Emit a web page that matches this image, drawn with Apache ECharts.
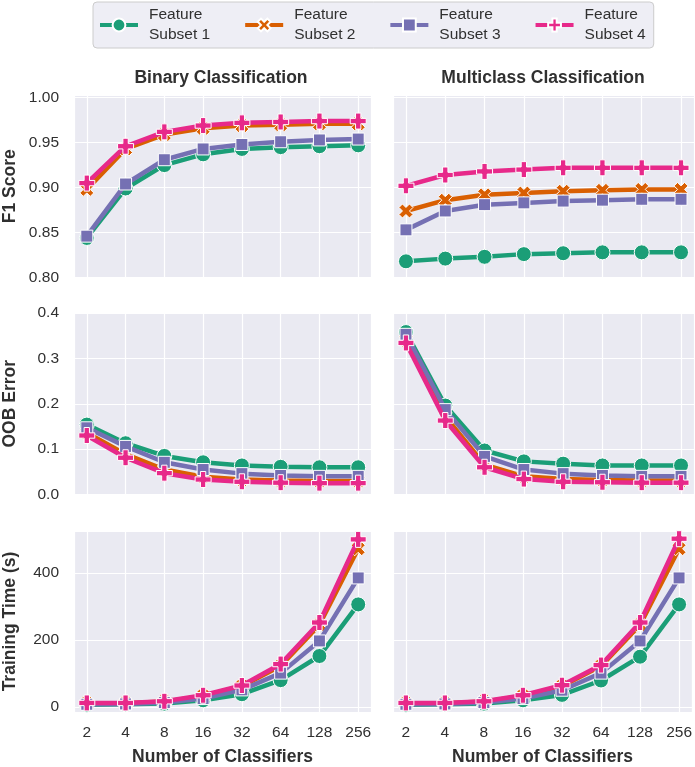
<!DOCTYPE html>
<html>
<head>
<meta charset="utf-8">
<script src="https://cdn.jsdelivr.net/npm/echarts@6/dist/echarts.min.js"></script>
<style>html,body{margin:0;padding:0;background:#fff}#c{width:695px;height:767px}</style>
</head>
<body>
<div id="c"></div>
<script>
// ---- data ----
const xTicks = ['2', '4', '8', '16', '32', '64', '128', '256'];
const seriesNames = ['Feature\nSubset 1', 'Feature\nSubset 2', 'Feature\nSubset 3', 'Feature\nSubset 4'];

// F1 score, binary
const f1BinS1 = [0.844, 0.899, 0.925, 0.937, 0.943, 0.945, 0.946, 0.947];
const f1BinS2 = [0.898, 0.943, 0.959, 0.966, 0.969, 0.970, 0.971, 0.971];
const f1BinS3 = [0.846, 0.904, 0.931, 0.943, 0.948, 0.951, 0.953, 0.954];
const f1BinS4 = [0.905, 0.946, 0.962, 0.969, 0.972, 0.973, 0.974, 0.974];
// F1 score, multiclass
const f1MulS1 = [0.818, 0.821, 0.823, 0.826, 0.827, 0.828, 0.828, 0.828];
const f1MulS2 = [0.874, 0.886, 0.892, 0.894, 0.896, 0.897, 0.898, 0.898];
const f1MulS3 = [0.853, 0.874, 0.881, 0.883, 0.885, 0.886, 0.887, 0.887];
const f1MulS4 = [0.902, 0.914, 0.918, 0.920, 0.922, 0.922, 0.922, 0.922];
// OOB error, binary
const oobBinS1 = [0.154, 0.113, 0.085, 0.071, 0.064, 0.061, 0.060, 0.060];
const oobBinS2 = [0.136, 0.089, 0.055, 0.039, 0.033, 0.031, 0.030, 0.030];
const oobBinS3 = [0.147, 0.106, 0.071, 0.055, 0.046, 0.042, 0.040, 0.040];
const oobBinS4 = [0.130, 0.081, 0.047, 0.033, 0.028, 0.026, 0.025, 0.025];
// OOB error, multiclass
const oobMulS1 = [0.358, 0.196, 0.097, 0.073, 0.068, 0.064, 0.064, 0.064];
const oobMulS2 = [0.340, 0.172, 0.066, 0.040, 0.034, 0.032, 0.031, 0.031];
const oobMulS3 = [0.353, 0.187, 0.084, 0.055, 0.046, 0.042, 0.040, 0.040];
const oobMulS4 = [0.334, 0.163, 0.060, 0.034, 0.028, 0.027, 0.026, 0.026];
// Training time, binary
const timeBinS1 = [7, 8, 10, 20, 38, 80, 152, 306];
const timeBinS2 = [11, 11, 16, 33, 62, 122, 245, 472];
const timeBinS3 = [8, 9, 13, 25, 51, 101, 197, 385];
const timeBinS4 = [12, 12, 17, 35, 64, 128, 252, 500];
// Training time, multiclass
const timeMulS1 = [7, 8, 10, 20, 36, 79, 150, 306];
const timeMulS2 = [11, 11, 16, 33, 62, 122, 245, 472];
const timeMulS3 = [8, 9, 13, 25, 50, 101, 197, 385];
const timeMulS4 = [12, 12, 17, 35, 65, 125, 252, 502];

// ---- styles ----
const colors = ['#1b9e77', '#d95f02', '#7570b3', '#e7298a'];
const PLUS = 'path://M4,0H8V4H12V8H8V12H4V8H0V4H4Z';
const XMARK = 'path://M0,3L3,0L6,3L9,0L12,3L9,6L12,9L9,12L6,9L3,12L0,9L3,6Z';
const symbols = ['circle', XMARK, 'rect', PLUS];
const symbolSizes = [15, 14, 12, 16];
const TXT = '#303030';
const FONT = 'Liberation Sans, Arial, sans-serif';

const panels = [
  [f1BinS1, f1BinS2, f1BinS3, f1BinS4],
  [f1MulS1, f1MulS2, f1MulS3, f1MulS4],
  [oobBinS1, oobBinS2, oobBinS3, oobBinS4],
  [oobMulS1, oobMulS2, oobMulS3, oobMulS4],
  [timeBinS1, timeBinS2, timeBinS3, timeBinS4],
  [timeMulS1, timeMulS2, timeMulS3, timeMulS4]
];

const rowTop = [95, 313, 531];
const rowH = [182.5, 181.5, 182];
const colLeft = [71, 393];
const colW = [300, 301];
const yCfg = [
  { min: 0.8, max: 1.003, splitNumber: 4, fmt: v => v.toFixed(2), name: 'F1 Score', hideMin: false, hideMax: true },
  { min: 0, max: 0.4, splitNumber: 5, fmt: v => v.toFixed(1), name: 'OOB Error', hideMin: false, hideMax: false },
  { min: -15, max: 525, splitNumber: 3, fmt: v => String(Math.round(v)), name: 'Training Time (s)', hideMin: true, hideMax: true }
];

const grids = [], xAxes = [], yAxes = [], series = [];
for (let r = 0; r < 3; r++) {
  for (let c = 0; c < 2; c++) {
    const idx = r * 2 + c;
    grids.push({ left: colLeft[c], top: rowTop[r], width: colW[c], height: rowH[r], show: true, backgroundColor: '#eaeaf2', borderWidth: 0 });
    xAxes.push({
      type: 'value', gridIndex: idx, min: -0.33, max: 7.33, splitNumber: 8,
      axisLine: { show: false }, axisTick: { show: false },
      splitLine: { show: true, lineStyle: { color: '#ffffff', width: 1.2 } },
      axisLabel: {
        show: r === 2, showMinLabel: false, showMaxLabel: false, margin: 13,
        color: TXT, fontSize: 15.5, fontFamily: FONT,
        formatter: v => (Math.abs(v - Math.round(v)) < 1e-6 && xTicks[Math.round(v)]) ? xTicks[Math.round(v)] : ''
      },
      name: r === 2 ? 'Number of Classifiers' : '', nameLocation: 'middle', nameGap: 36,
      nameTextStyle: { color: TXT, fontSize: 17.5, fontWeight: 'bold', fontFamily: FONT }
    });
    const yc = yCfg[r];
    yAxes.push({
      type: 'value', gridIndex: idx, min: yc.min, max: yc.max, splitNumber: yc.splitNumber,
      axisLine: { show: false }, axisTick: { show: false },
      splitLine: { show: true, lineStyle: { color: '#ffffff', width: 1.2 } },
      axisLabel: {
        show: c === 0, showMinLabel: !yc.hideMin, showMaxLabel: !yc.hideMax, margin: 15,
        color: TXT, fontSize: 15.5, fontFamily: FONT, formatter: yc.fmt
      },
      name: c === 0 ? yc.name : '', nameLocation: 'middle', nameGap: 55,
      nameTextStyle: { color: TXT, fontSize: 17.5, fontWeight: 'bold', fontFamily: FONT }
    });
    panels[idx].forEach((vals, s) => {
      series.push({
        type: 'line', name: seriesNames[s], xAxisIndex: idx, yAxisIndex: idx,
        data: vals.map((v, i) => [i, v]),
        symbol: symbols[s], symbolSize: symbolSizes[s],
        lineStyle: { color: colors[s], width: 4.5 },
        itemStyle: { color: colors[s], borderColor: '#ffffff', borderWidth: 1 },
        emphasis: { disabled: true }, z: 2 + s
      });
    });
  }
}

const chart = echarts.init(document.getElementById('c'), null, { renderer: 'canvas' });
chart.setOption({
  animation: false,
  backgroundColor: '#ffffff',
  grid: grids, xAxis: xAxes, yAxis: yAxes, series: series,
  legend: {
    data: seriesNames, left: 93, top: 2,
    padding: [3, 8, 3, 5], itemGap: 33, itemWidth: 38, itemHeight: 16,
    lineStyle: { width: 4 },
    backgroundColor: '#eeeef5', borderColor: '#cccccc', borderWidth: 1, borderRadius: 4,
    textStyle: { color: TXT, fontSize: 15.5, lineHeight: 20, fontFamily: FONT, padding: [0, 0, 0, 6] }
  },
  graphic: [
    { type: 'text', x: 221, y: 78, style: { text: 'Binary Classification', fill: TXT, font: 'bold 17.5px ' + FONT, align: 'center', verticalAlign: 'middle' } },
    { type: 'text', x: 543, y: 78, style: { text: 'Multiclass Classification', fill: TXT, font: 'bold 17.5px ' + FONT, align: 'center', verticalAlign: 'middle' } }
  ]
});
</script>
</body>
</html>
